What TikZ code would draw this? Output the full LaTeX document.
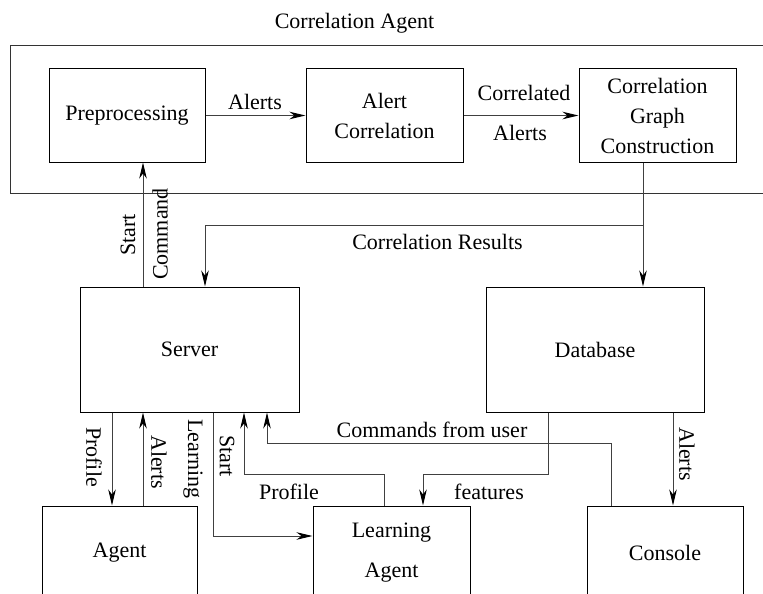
\documentclass[tikz,border=0pt]{standalone}
\usepackage{fontspec}
\setmainfont{Liberation Serif}
\usetikzlibrary{arrows.meta}
\begin{document}
\begin{tikzpicture}[x=1pt,y=-1pt,
  every node/.style={font=\fontsize{22}{30}\selectfont},
  blk/.style={draw=black,line width=1pt,inner sep=0pt,align=center},
  lbl/.style={inner sep=0pt},
  vlbl/.style={inner sep=0pt,rotate=-90},
  ulbl/.style={inner sep=0pt,rotate=90},
  wire/.style={draw=black!75,line width=1pt},
  arr/.style={wire,-{Stealth[length=16pt,width=7.5pt,inset=5pt,black]}}]
\useasboundingbox (0,0) rectangle (763,594);
\begin{scope}
\clip (0,0) rectangle (763,594);

% correlation agent container
\node[lbl] (title) at (354.5,23) {Correlation Agent};
\node[blk,draw=black!80,minimum width=765,minimum height=147] (corr) at (392.5,119.5) {};

% blocks inside the correlation agent
\node[blk,minimum width=156,minimum height=93] (pre) at (127,115.5) {Preprocessing};
\node[blk,minimum width=157,minimum height=93] (ac) at (384.5,115.5) {Alert\\Correlation};
\node[blk,minimum width=157,minimum height=93] (cgc) at (657.5,115.5) {Correlation\\Graph\\Construction};

% middle row
\node[blk,minimum width=219,minimum height=125] (server) at (189.5,349.5) {Server};
\node[blk,minimum width=218,minimum height=125] (db) at (595,349.5) {Database};

% bottom row
\node[blk,minimum width=155,minimum height=94] (agent) at (119.5,553) {Agent};
\node[blk,minimum width=157,minimum height=94] (la) at (391.5,553) {Learning\\[10pt]Agent};
\node[blk,minimum width=156,minimum height=94] (console) at (665,553) {Console};

% routing points
\coordinate (startx) at (143,0);
\coordinate (crj) at (643,225);
\coordinate (crs) at (205,225);
\coordinate (profx) at (112,0);
\coordinate (alx) at (143,0);
\coordinate (lrn) at (213,536);
\coordinate (lpj) at (384,474);
\coordinate (lps) at (244,474);
\coordinate (cmj) at (611,443);
\coordinate (cms) at (267,443);
\coordinate (ftj) at (548,474);
\coordinate (fts) at (423,474);
\coordinate (dbx) at (673,0);

% pipeline inside the correlation agent
\draw[arr] (pre.east) -- (ac.west);
\node[lbl] (l1) at (255,102) {Alerts};
\draw[arr] (ac.east) -- (cgc.west);
\node[lbl] (l2) at (524,93) {Correlated};
\node[lbl] (l3) at (520,133) {Alerts};

% start command from server
\draw[arr] (server.north -| startx) -- (pre.south -| startx);
\node[ulbl] (l4) at (128,235) {Start};
\node[ulbl] (l5) at (160,234) {Command};

% correlation results
\draw[arr] (cgc.south -| crj) -- (db.north -| crj);
\draw[arr] (crj) -- (crs) -- (server.north -| crs);
\node[lbl] (l6) at (437.5,242) {Correlation Results};

% server and agent
\draw[arr] (server.south -| profx) -- (agent.north -| profx);
\node[vlbl] (l7) at (94,457) {Profile};
\draw[arr] (agent.north -| alx) -- (server.south -| alx);
\node[vlbl] (l8) at (159,462) {Alerts};

% server and learning agent
\draw[arr] (server.south -| lrn) -- (lrn) -- (la.west |- lrn);
\node[vlbl] (l9) at (193,459) {Learning};
\draw[arr] (la.north -| lpj) -- (lpj) -- (lps) -- (server.south -| lps);
\node[vlbl] (l10) at (227,456) {Start};
\node[lbl] (l11) at (289,492) {Profile};

% console commands
\draw[arr] (console.north -| cmj) -- (cmj) -- (cms) -- (server.south -| cms);
\node[lbl] (l12) at (432,430) {Commands from user};

% database outputs
\draw[arr] (db.south -| ftj) -- (ftj) -- (fts) -- (la.north -| fts);
\node[lbl] (l13) at (489,492) {features};
\draw[arr] (db.south -| dbx) -- (console.north -| dbx);
\node[vlbl] (l14) at (687,454) {Alerts};
\end{scope}
\end{tikzpicture}
\end{document}
